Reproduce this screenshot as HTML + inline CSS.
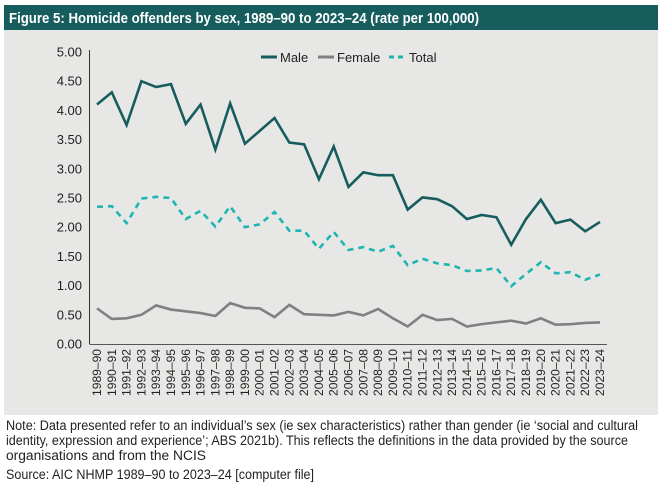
<!DOCTYPE html>
<html><head><meta charset="utf-8"><style>
body{margin:0;background:#fff;width:664px;height:484px;overflow:hidden}
svg{display:block;font-family:"Liberation Sans",sans-serif}
</style></head><body>
<svg id="chart" width="664" height="484">
<rect x="4" y="5" width="654" height="25" fill="#175d5e"/>
<text x="9" y="23" fill="#fff" font-size="15" font-weight="bold" textLength="470" lengthAdjust="spacingAndGlyphs">Figure 5: Homicide offenders by sex, 1989–90 to 2023–24 (rate per 100,000)</text>
<rect x="4" y="30" width="654" height="385" fill="#e7e8e6"/>
<g id="axes"></g>
<g id="series"></g>
<g>
<line x1="261" y1="57" x2="277" y2="57" stroke="#175d5e" stroke-width="3"/>
<text x="280" y="62" font-size="13" fill="#222">Male</text>
<line x1="318" y1="57" x2="334" y2="57" stroke="#808080" stroke-width="3"/>
<text x="337" y="62" font-size="13" fill="#222">Female</text>
<line x1="389" y1="57" x2="406" y2="57" stroke="#1fb5b0" stroke-width="3" stroke-dasharray="5,4"/>
<text x="409" y="62" font-size="13" fill="#222">Total</text>
</g>
<g font-size="13.5" fill="#222">
<text x="6" y="430" textLength="632" lengthAdjust="spacingAndGlyphs">Note: Data presented refer to an individual’s sex (ie sex characteristics) rather than gender (ie ‘social and cultural</text>
<text x="6" y="445" textLength="622" lengthAdjust="spacingAndGlyphs">identity, expression and experience’; ABS 2021b). This reflects the definitions in the data provided by the source</text>
<text x="6" y="460" textLength="200" lengthAdjust="spacingAndGlyphs">organisations and from the NCIS</text>
<text x="6" y="479" textLength="308" lengthAdjust="spacingAndGlyphs">Source: AIC NHMP 1989–90 to 2023–24 [computer file]</text>
</g>
</svg>
<script>
const years=["1989–90","1990–91","1991–92","1992–93","1993–94","1994–95","1995–96","1996–97","1997–98","1998–99","1999–00","2000–01","2001–02","2002–03","2003–04","2004–05","2005–06","2006–07","2007–08","2008–09","2009–10","2010–11","2011–12","2012–13","2013–14","2014–15","2015–16","2016–17","2017–18","2018–19","2019–20","2020–21","2021–22","2022–23","2023–24"];
const male=[4.10,4.31,3.75,4.50,4.40,4.45,3.77,4.10,3.33,4.12,3.43,3.65,3.87,3.45,3.42,2.82,3.38,2.69,2.94,2.89,2.89,2.30,2.51,2.48,2.36,2.14,2.21,2.17,1.70,2.14,2.47,2.07,2.13,1.93,2.09];
const female=[0.61,0.43,0.44,0.50,0.66,0.59,0.56,0.53,0.48,0.70,0.62,0.61,0.46,0.67,0.51,0.50,0.49,0.55,0.49,0.60,0.44,0.30,0.50,0.41,0.43,0.30,0.34,0.37,0.40,0.35,0.44,0.33,0.34,0.36,0.37];
const total=[2.35,2.36,2.07,2.49,2.52,2.50,2.14,2.28,2.01,2.36,2.00,2.05,2.26,1.94,1.94,1.63,1.92,1.61,1.66,1.58,1.68,1.35,1.46,1.38,1.35,1.25,1.26,1.30,0.99,1.20,1.40,1.21,1.23,1.10,1.19];
const yTicks=["0.00","0.50","1.00","1.50","2.00","2.50","3.00","3.50","4.00","4.50","5.00"];
const NS="http://www.w3.org/2000/svg";
const x0=97,x1=600,yb=344,yt=52,ymax=5;
const X=i=>x0+(x1-x0)*i/(years.length-1);
const Y=v=>yb-(yb-yt)*v/ymax;
const axes=document.getElementById('axes'),ser=document.getElementById('series');
function mk(tag,attrs,parent){const e=document.createElementNS(NS,tag);for(const k in attrs)e.setAttribute(k,attrs[k]);parent.appendChild(e);return e;}
let l=mk('line',{x1:89.5,y1:50,x2:89.5,y2:yb,stroke:'#333','stroke-width':1},axes);


l=mk('line',{x1:89.5,y1:yb+0.5,x2:607,y2:yb+0.5,stroke:'#555','stroke-width':1},axes);


yTicks.forEach(t=>{const e=mk('text',{x:82,y:Y(parseFloat(t))+4.5,'text-anchor':'end','font-size':13,fill:'#222'},axes);e.textContent=t;

});
years.forEach((t,i)=>{const e=mk('text',{x:0,y:0,'text-anchor':'end','font-size':11.5,fill:'#222',transform:`translate(${X(i)+4},349) rotate(-90)`,textLength:47,lengthAdjust:'spacingAndGlyphs'},axes);e.textContent=t;

});
function line(d,color,dash,name){const p=mk('polyline',{points:d.map((v,i)=>X(i)+','+Y(v)).join(' '),fill:'none',stroke:color,'stroke-width':2.6,'stroke-linejoin':'miter'},ser);if(dash)p.setAttribute('stroke-dasharray',dash);

}
line(female,'#808080',null,'female-line');
line(total,'#1fb5b0','6,5','total-line');
line(male,'#175d5e',null,'male-line');
</script>
</body></html>
